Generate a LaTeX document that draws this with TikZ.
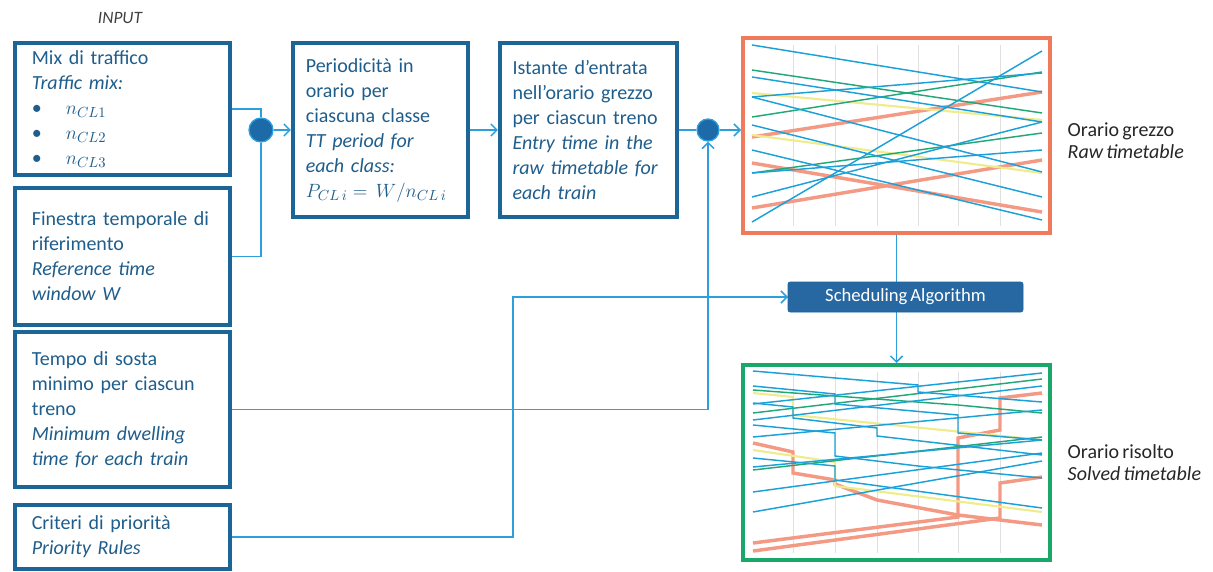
\documentclass[tikz,border=0pt]{standalone}
\usepackage{fontspec}
\setmainfont{Carlito}[WordSpace=0.7]
\usepackage{tikz}
\usetikzlibrary{arrows.meta}
\usetikzlibrary{calc}

\definecolor{boxblue}{HTML}{1C6597}
\definecolor{textblue}{HTML}{1F5E8C}
\definecolor{linkblue}{HTML}{2D9FDC}
\definecolor{dotblue}{HTML}{1D6AA8}
\definecolor{schedblue}{HTML}{2868A2}
\definecolor{rawred}{HTML}{F07A5C}
\definecolor{solvedgreen}{HTML}{1AA86A}
\definecolor{tblue}{HTML}{1BA0D8}
\definecolor{tgreen}{HTML}{22A878}
\definecolor{tyellow}{HTML}{EEEC8C}
\definecolor{tred}{HTML}{F49A84}

\tikzset{inbox/.style={draw=boxblue, line width=3.2pt, fill=white, text=textblue, align=left, inner sep=0pt, font=\fontsize{15}{18.75}\selectfont}}
\tikzset{link/.style={draw=linkblue, line width=1.1pt}}
\tikzset{tip/.style={-{Straight Barb[length=4.5pt,width=9pt]}}}
\tikzset{junction/.style={circle, fill=dotblue, draw=linkblue, line width=1pt, inner sep=0pt}}
\tikzset{chart/.style={line width=3pt, minimum width=230.25pt, minimum height=146.25pt, inner sep=0pt}}
\tikzset{gridline/.style={draw=black!12, line width=0.4pt}}
\tikzset{bluetrain/.style={draw=tblue, line width=1.1pt}}
\tikzset{greentrain/.style={draw=tgreen, line width=1.1pt}}
\tikzset{yellowtrain/.style={draw=tyellow, line width=1.6pt}}
\tikzset{redtrain/.style={draw=tred, line width=2.6pt}}
\tikzset{sidelabel/.style={anchor=west, align=left, text=black!85, font=\fontsize{15}{16.5}\selectfont}}

\begin{document}
\begin{tikzpicture}[x=0.75pt, y=-0.75pt]
	\useasboundingbox (0,0) rectangle (1213,571);

	% INPUT column
	\node[text=black!75, font=\fontsize{13}{15}\selectfont\itshape] (input) at (120,18) {INPUT};
	\node[inbox, minimum width=161.25pt, minimum height=99pt, text width=136pt] (mix) at (122.5,109)
		{Mix di traffico\\ \textit{Traffic mix:}\\ \textbullet\hspace{18pt}$n_{CL1}$\\ \textbullet\hspace{18pt}$n_{CL2}$\\ \textbullet\hspace{18pt}$n_{CL3}$};
	\node[inbox, minimum width=161.25pt, minimum height=102.75pt, text width=136pt] (finestra) at (122.5,256.5)
		{Finestra temporale di\\ riferimento\\ \textit{Reference time}\\ \textit{window W}};
	\node[inbox, minimum width=161.25pt, minimum height=116.25pt, text width=136pt] (tempo) at (122.5,409.5)
		{Tempo di sosta\\ minimo per ciascun\\ treno\\ \textit{Minimum dwelling}\\ \textit{time for each train}};
	\node[inbox, minimum width=161.25pt, minimum height=48pt, text width=136pt] (criteri) at (122.5,537)
		{Criteri di priorità\\ \textit{Priority Rules}};

	% MIDDLE
	\node[junction, minimum size=18pt] (j1) at (261,130) {};
	\node[inbox, minimum width=131.25pt, minimum height=130.5pt, text width=112pt] (periodo) at (380.5,130)
		{Periodicità in\\ orario per\\ ciascuna classe\\ \textit{TT period for}\\ \textit{each class:}\\ $P_{CL\,i}=\,W/n_{CL\,i}$};
	\node[inbox, minimum width=132.75pt, minimum height=130.5pt, text width=114pt] (istante) at (588.5,130)
		{Istante d’entrata\\ nell’orario grezzo\\ per ciascun treno\\ \textit{Entry time in the}\\ \textit{raw timetable for}\\ \textit{each train}};
	\node[junction, minimum size=16.5pt] (j2) at (708,130) {};
	\coordinate (elbow) at (513,297);

	% RHS
	\node[chart, draw=rawred] (raw) at (896.5,135.5) {};
	\node[chart, draw=solvedgreen] (solved) at (896.5,462.5) {};
	\node[sidelabel] (rawlabel) at (1063,141) {Orario grezzo\\ \textit{Raw timetable}};
	\node[sidelabel] (solvedlabel) at (1063,463) {Orario risolto\\ \textit{Solved timetable}};

	% grid
	\foreach \gx in {793,835,877,918,958,1000}{
		\draw[gridline] (\gx,45) -- (\gx,226);
		\draw[gridline] (\gx,372) -- (\gx,553);
	}

	% raw timetable
	\draw[redtrain] (752,137) -- (1042,92);
	\draw[redtrain] (752,208) -- (1042,160);
	\draw[redtrain] (752,163) -- (1042,212);
	\draw[yellowtrain] (752,93) -- (1042,120);
	\draw[yellowtrain] (752,135) -- (1042,173);
	\draw[greentrain] (752,117) -- (1042,72);
	\draw[greentrain] (752,173) -- (1042,133);
	\draw[greentrain] (752,70) -- (1042,113);
	\draw[bluetrain] (752,45) -- (1042,92);
	\draw[bluetrain] (752,77) -- (1042,122);
	\draw[bluetrain] (752,97) -- (1042,172);
	\draw[bluetrain] (752,125) -- (1042,197);
	\draw[bluetrain] (752,150) -- (1042,220);
	\draw[bluetrain] (752,222) -- (1042,51);
	\draw[bluetrain] (752,197) -- (1042,122);
	\draw[bluetrain] (752,173) -- (1042,150);
	\draw[bluetrain] (752,97) -- (1042,73);

	% solved timetable
	\draw[redtrain] (753,443) -- (793,452) -- (793,473) -- (835,480) -- (835,484) -- (877,500) -- (958,515) -- (1042,525);
	\draw[redtrain] (753,543) -- (958,517) -- (958,438) -- (1000,430) -- (1000,398) -- (1042,393);
	\draw[redtrain] (753,551) -- (1000,518) -- (1000,483) -- (1042,477);
	\draw[yellowtrain] (753,393) -- (793,397) -- (793,415) -- (1042,440);
	\draw[yellowtrain] (753,450) -- (835,462) -- (835,486) -- (1042,512);
	\draw[greentrain] (753,413) -- (1042,379);
	\draw[greentrain] (753,470) -- (1042,437);
	\draw[greentrain] (753,390) -- (958,405) -- (1042,413);
	\draw[bluetrain] (753,371) -- (918,385) -- (918,392) -- (1042,402);
	\draw[bluetrain] (753,386) -- (835,394) -- (835,404) -- (958,415) -- (958,433) -- (1042,440);
	\draw[bluetrain] (753,403) -- (793,407) -- (793,418) -- (877,428) -- (877,436) -- (1042,455);
	\draw[bluetrain] (753,425) -- (835,433) -- (835,456) -- (918,466) -- (1042,478);
	\draw[bluetrain] (753,458) -- (835,466) -- (835,480) -- (1042,508);
	\draw[bluetrain] (753,404) -- (1042,373);
	\draw[bluetrain] (753,420) -- (1042,386);
	\draw[bluetrain] (753,437) -- (1042,410);
	\draw[bluetrain] (753,467) -- (1042,440);
	\draw[bluetrain] (753,492) -- (1042,453);
	\draw[bluetrain] (753,512) -- (1042,461);

	% Connectors
	\draw[link] (mix.east) -| (j1);
	\draw[link] (finestra.east) -| (j1);
	\draw[link, tip] (j1) -- (periodo);
	\draw[link, tip] (periodo) -- (istante);
	\draw[link] (istante) -- (j2);
	\draw[link, tip] (j2) -- (raw.west |- j2);
	\draw[link, tip] (tempo.east) -| (j2);
	\draw[link, tip] (criteri.east) -| (elbow) -- (elbow -| 788,0);
	\draw[link, tip] (raw.south) -- (solved.north);

	% scheduler on top of the vertical
	\node[fill=schedblue, draw=boxblue, rounded corners=1.5pt, text=white, minimum width=176.25pt, minimum height=22.5pt, inner sep=0pt, font=\fontsize{14}{16}\selectfont] (sched) at (905.5,297) {Scheduling Algorithm};
\end{tikzpicture}
\end{document}
